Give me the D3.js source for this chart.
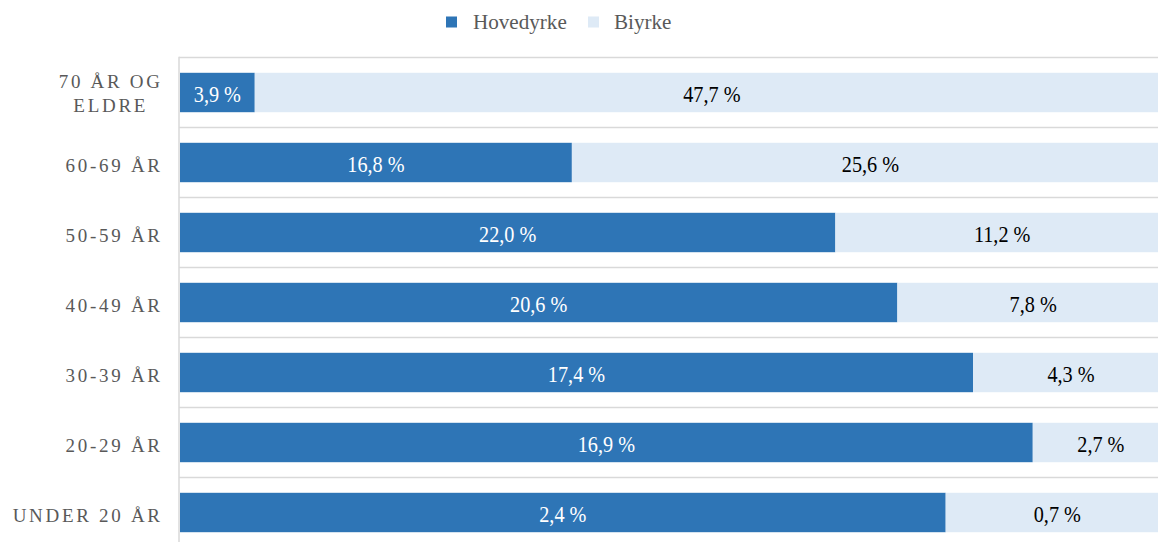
<!DOCTYPE html>
<html>
<head>
<meta charset="utf-8">
<script src="https://cdn.jsdelivr.net/npm/d3@7"></script>
<style>
  html, body { margin: 0; padding: 0; background: #fff; }
  svg { display: block; }
</style>
</head>
<body>
<svg id="chart" width="1158" height="542"></svg>
<script>
// Age groups, top to bottom
const categories = ["70 ÅR OG ELDRE", "60-69 ÅR", "50-59 ÅR", "40-49 ÅR", "30-39 ÅR", "20-29 ÅR", "UNDER 20 ÅR"];
// Share with main occupation (Hovedyrke) and secondary occupation (Biyrke), in %
const hovedyrke = [3.9, 16.8, 22.0, 20.6, 17.4, 16.9, 2.4];
const biyrke = [47.7, 25.6, 11.2, 7.8, 4.3, 2.7, 0.7];
const seriesNames = ["Hovedyrke", "Biyrke"];

const colors = { Hovedyrke: "#2e75b6", Biyrke: "#deeaf6" };
const labelColors = { Hovedyrke: "#ffffff", Biyrke: "#000000" };

const rows = categories.map((c, i) => ({ category: c, Hovedyrke: hovedyrke[i], Biyrke: biyrke[i] }));

const svg = d3.select("#chart");
const W = 1158;
const plot = { left: 180, right: 1169, top: 57.5, bottom: 547.5 };

const y = d3.scaleBand().domain(categories).range([plot.top, plot.bottom]).paddingInner(0.437).paddingOuter(0.2185);
const band = d3.scaleBand().domain(categories).range([plot.top, plot.bottom]);
const x = d3.scaleLinear().domain([0, 1]).range([plot.left, plot.right]);

// 100 % stacked layout
const stacked = d3.stack().keys(seriesNames).offset(d3.stackOffsetExpand)(rows);

const locale = d3.formatLocale({ decimal: ",", thousands: " ", grouping: [3], currency: ["", " kr"] });
const fmt = v => locale.format(".1f")(v) + " %";

// Category band separators
svg.append("g")
  .selectAll("line")
  .data(categories.map(c => band(c)).concat([plot.bottom]))
  .join("line")
  .attr("x1", plot.left - 1).attr("x2", W + 20)
  .attr("y1", d => d).attr("y2", d => d)
  .attr("stroke", "#d9d9d9").attr("stroke-width", 1.5);

// Stacked bars
const layers = svg.append("g").selectAll("g")
  .data(stacked)
  .join("g")
  .attr("fill", d => colors[d.key]);

layers.selectAll("rect")
  .data(d => d)
  .join("rect")
  .attr("x", d => x(d[0]))
  .attr("width", d => x(d[1]) - x(d[0]))
  .attr("y", d => y(d.data.category))
  .attr("height", y.bandwidth());

// Value labels, centred in each segment
const fontSerif = "'Liberation Serif', 'Times New Roman', serif";
const labelScale = 0.88;
stacked.forEach(layer => {
  svg.append("g").selectAll("text")
    .data(layer)
    .join("text")
    .attr("transform", d => `translate(${(x(d[0]) + x(d[1])) / 2},${y(d.data.category) + y.bandwidth() / 2 + 9}) scale(${labelScale},1)`)
    .attr("text-anchor", "middle")
    .attr("font-family", fontSerif)
    .attr("font-size", 23)
    .attr("fill", labelColors[layer.key])
    .text(d => fmt(d.data[layer.key]));
});

// Left axis line
svg.append("line")
  .attr("x1", plot.left - 1).attr("x2", plot.left - 1)
  .attr("y1", plot.top - 0.75).attr("y2", plot.bottom)
  .attr("stroke", "#d9d9d9").attr("stroke-width", 1.5);

// Category labels (wrapped when too wide, lines centred in their block)
const ls = 2.7;
const labelRight = 160;
const maxLabelWidth = 158;
const catG = svg.append("g");
categories.forEach(c => {
  const measure = catG.append("text")
    .attr("font-family", fontSerif).attr("font-size", 19)
    .attr("letter-spacing", ls);
  const widthOf = s => { measure.text(s); return measure.node().getComputedTextLength() - ls; };
  const words = c.split(" ");
  const lines = [];
  let cur = "";
  words.forEach(w => {
    const t = cur ? cur + " " + w : w;
    if (cur && widthOf(t) > maxLabelWidth) { lines.push(cur); cur = w; } else { cur = t; }
  });
  lines.push(cur);
  const widths = lines.map(widthOf);
  measure.remove();
  const blockW = d3.max(widths);
  const cx = labelRight - blockW / 2;
  const cy = band(c) + band.bandwidth() / 2;
  const lh = 24;
  lines.forEach((line, i) => {
    catG.append("text")
      .attr("x", lines.length > 1 ? cx + ls / 2 : labelRight + ls)
      .attr("y", cy + 9.5 + (i - (lines.length - 1) / 2) * lh - (lines.length > 1 ? 2 : 0))
      .attr("text-anchor", lines.length > 1 ? "middle" : "end")
      .attr("font-family", fontSerif).attr("font-size", 19)
      .attr("letter-spacing", ls)
      .attr("fill", "#595959")
      .text(line);
  });
});

// Legend
const legend = svg.append("g");
const legendItems = [
  { key: "Hovedyrke", sx: 446, tx: 473 },
  { key: "Biyrke", sx: 588, tx: 614 }
];
legendItems.forEach(it => {
  legend.append("rect")
    .attr("x", it.sx).attr("y", 16.5).attr("width", 11).attr("height", 11)
    .attr("fill", colors[it.key]);
  legend.append("text")
    .attr("transform", `translate(${it.tx},29) scale(0.96,1)`)
    .attr("font-family", fontSerif).attr("font-size", 22)
    .attr("fill", "#595959")
    .text(it.key);
});
</script>
</body>
</html>
